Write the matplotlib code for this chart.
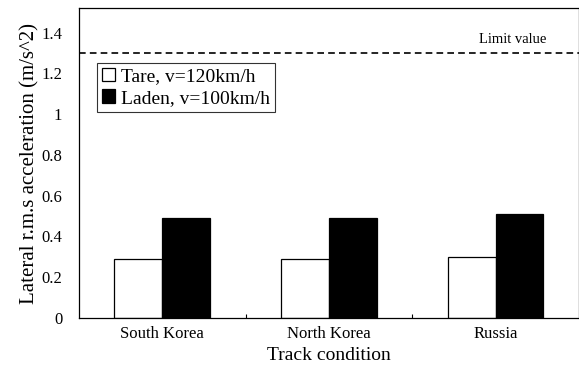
import numpy as np
import matplotlib.pyplot as plt
from matplotlib.ticker import FixedLocator

# Data
categories = ['South Korea', 'North Korea', 'Russia']
tare = [0.29, 0.29, 0.30]
laden = [0.49, 0.49, 0.51]
limit_value = 1.3
yticks = [0, 0.2, 0.4, 0.6, 0.8, 1, 1.2, 1.4]
ytick_labels = ['0', '0.2', '0.4', '0.6', '0.8', '1', '1.2', '1.4']

plt.rcParams['font.family'] = ['Liberation Serif', 'DejaVu Serif']

fig = plt.figure(figsize=(5.79, 3.83), dpi=100)
ax = fig.add_axes([0.1364, 0.1697, 0.8636, 0.809])

x = np.arange(len(categories))
w = 0.287
ax.bar(x - w / 2, tare, w, color='white', edgecolor='black', linewidth=0.9,
       label='Tare, v=120km/h')
ax.bar(x + w / 2, laden, w, color='black', edgecolor='black', linewidth=0.9,
       label='Laden, v=100km/h')

# limit line
ax.axhline(limit_value, color='black', linestyle=(0, (4, 2.5)), linewidth=1.2)
ax.text(2.105, limit_value + 0.035, 'Limit value', fontsize=10.5, ha='center', va='bottom')

ax.set_xlim(-0.5, 2.5)
ax.set_ylim(0, 1.52)
ax.set_yticks(yticks)
ax.set_yticklabels(ytick_labels, fontsize=12)
ax.set_xticks(x)
ax.set_xticklabels(categories, fontsize=12)
ax.tick_params(axis='y', which='major', length=0, pad=12)
ax.tick_params(axis='x', which='major', length=0, pad=6)
ax.xaxis.set_minor_locator(FixedLocator([0.5, 1.5]))
ax.tick_params(axis='x', which='minor', direction='in', length=3, width=0.8)

ax.set_ylabel('Lateral r.m.s acceleration (m/s^2)', fontsize=15, labelpad=1)
ax.set_xlabel('Track condition', fontsize=14, labelpad=3)

for s in ax.spines.values():
    s.set_linewidth(0.9)

leg = ax.legend(loc='upper left', bbox_to_anchor=(0.036, 0.823), fontsize=14,
                frameon=True, fancybox=False, edgecolor='black',
                handlelength=0.7, handleheight=0.7, handletextpad=0.3,
                borderpad=0.25, labelspacing=0.2, borderaxespad=0)
leg.get_frame().set_linewidth(0.8)

fig.savefig('out.png', dpi=100)
